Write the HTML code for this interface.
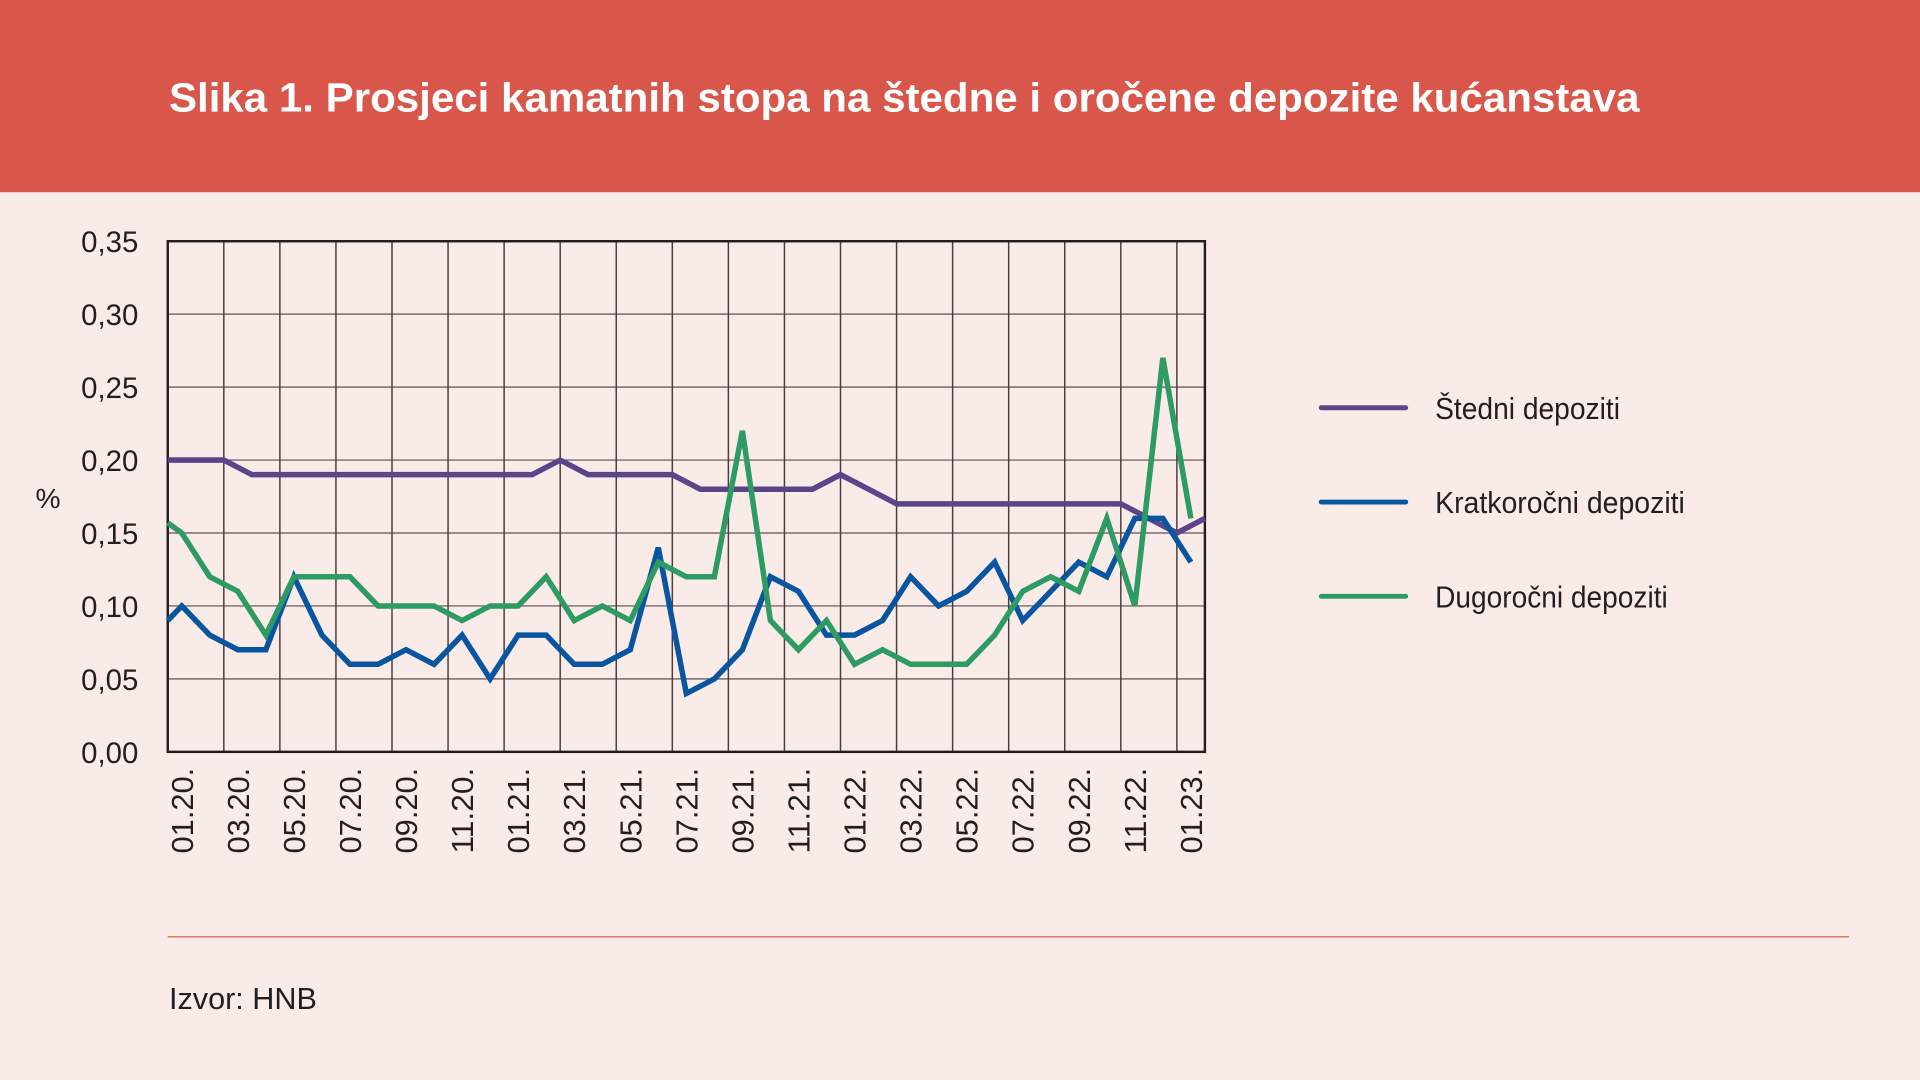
<!DOCTYPE html>
<html><head><meta charset="utf-8"><style>
html,body{margin:0;padding:0;background:#f9ebe8;}
svg{display:block;}
text{font-family:"Liberation Sans",Arial,sans-serif;fill:#231f20;}
</style></head><body>
<svg width="1920" height="1080" viewBox="0 0 1568 882" xmlns="http://www.w3.org/2000/svg">
<rect x="0" y="0" width="1568" height="882" fill="#f9ebe8"/>
<rect x="0" y="0" width="1568" height="157" fill="#d8564a"/>
<text x="138" y="91" font-size="33" font-weight="bold" style="fill:#fff" textLength="1201" lengthAdjust="spacingAndGlyphs">Slika 1. Prosjeci kamatnih stopa na štedne i oročene depozite kućanstava</text>
<g id="grid" stroke="#7a6a6a" stroke-width="1.2"></g>
<rect x="137" y="197" width="847" height="417" fill="none" stroke="#231f20" stroke-width="2"/>
<g id="ylab" font-size="24" text-anchor="end"></g>
<g id="xlab" font-size="25"></g>
<text x="29" y="415" font-size="23">%</text>
<g id="series" fill="none" stroke-width="4.5" stroke-linejoin="miter"></g>
<g stroke-width="4" stroke-linecap="round">
<line x1="1079" y1="333" x2="1148" y2="333" stroke="#5a4589"/>
<line x1="1079" y1="410" x2="1148" y2="410" stroke="#0a55a0"/>
<line x1="1079" y1="487" x2="1148" y2="487" stroke="#2e9a64"/>
</g>
<text x="1172" y="342" font-size="25" textLength="151" lengthAdjust="spacingAndGlyphs">Štedni depoziti</text>
<text x="1172" y="419" font-size="25" textLength="204" lengthAdjust="spacingAndGlyphs">Kratkoročni depoziti</text>
<text x="1172" y="496" font-size="25" textLength="190" lengthAdjust="spacingAndGlyphs">Dugoročni depoziti</text>
<line x1="137" y1="765" x2="1510" y2="765" stroke="#e0786a" stroke-width="1.2"/>
<text x="138" y="824" font-size="25">Izvor: HNB</text>
</svg>
<script>
const NS="http://www.w3.org/2000/svg";
const L=137,R=984,T=197,B=614,bw=(R-L)/37;
const Y=v=>B-v/0.35*(B-T);
function el(t,a,p,txt){const e=document.createElementNS(NS,t);for(const k in a)e.setAttribute(k,a[k]);if(txt!==undefined)e.textContent=txt;document.getElementById(p).appendChild(e);return e;}
for(let i=1;i<7;i++){const y=Y(i*0.05);el('line',{x1:L,x2:R,y1:y,y2:y},'grid');}
for(let k=2;k<37;k+=2){const x=L+k*bw;el('line',{x1:x,x2:x,y1:T,y2:B,stroke:'#4a3c3c'},'grid');}
for(let i=0;i<=7;i++){el('text',{x:113,y:Y(i*0.05)+9},'ylab',(i*0.05).toFixed(2).replace('.',','));}
let k=0;
for(let yr=20;yr<=23;yr++){for(let m=1;m<=12;m+=2){if(k>36)break;const x=L+(k+0.5)*bw+9;
 el('text',{x:0,y:0,transform:`translate(${x},627) rotate(-90)`,'text-anchor':'end',textLength:70,lengthAdjust:'spacingAndGlyphs'},'xlab',String(m).padStart(2,'0')+'.'+yr+'.');k+=2;}}
const blue=[0.10,0.08,0.07,0.07,0.12,0.08,0.06,0.06,0.07,0.06,0.08,0.05,0.08,0.08,0.06,0.06,0.07,0.14,0.04,0.05,0.07,0.12,0.11,0.08,0.08,0.09,0.12,0.10,0.11,0.13,0.09,0.11,0.13,0.12,0.16,0.16,0.13];
const green=[0.15,0.12,0.11,0.08,0.12,0.12,0.12,0.10,0.10,0.10,0.09,0.10,0.10,0.12,0.09,0.10,0.09,0.13,0.12,0.12,0.22,0.09,0.07,0.09,0.06,0.07,0.06,0.06,0.06,0.08,0.11,0.12,0.11,0.16,0.10,0.27,0.16];
const purple=[0.20,0.20,0.20,0.19,0.19,0.19,0.19,0.19,0.19,0.19,0.19,0.19,0.19,0.19,0.20,0.19,0.19,0.19,0.19,0.18,0.18,0.18,0.18,0.18,0.19,0.18,0.17,0.17,0.17,0.17,0.17,0.17,0.17,0.17,0.17,0.16,0.15,0.16];
function line(arr,start,off,col){let pts=[];if(start!==null)pts.push([L,Y(start)]);arr.forEach((v,i)=>pts.push([L+(i+off)*bw,Y(v)]));
 el('polyline',{points:pts.map(p=>p.join(',')).join(' '),stroke:col},'series');}
line(purple,null,0,'#5a4589');
line(blue,0.09,0.5,'#0a55a0');
line(green,0.157,0.5,'#2e9a64');
</script>
</body></html>
